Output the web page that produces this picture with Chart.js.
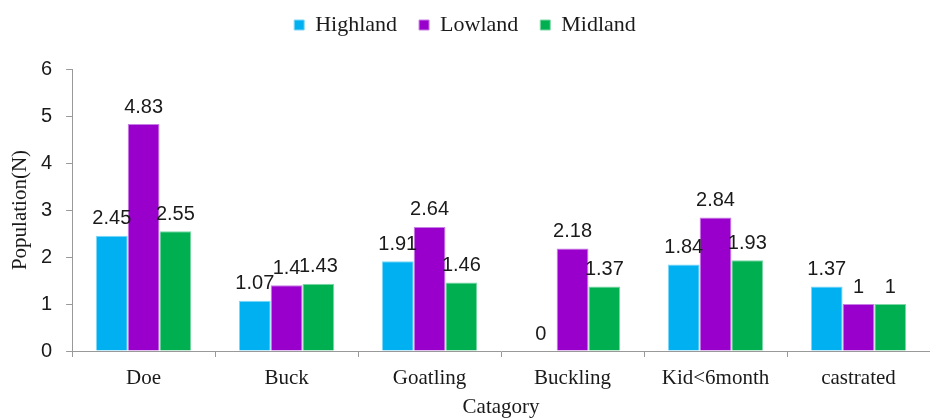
<!DOCTYPE html>
<html>
<head>
<meta charset="utf-8">
<script src="https://cdn.jsdelivr.net/npm/chart.js@4"></script>
<style>
  html, body { margin: 0; padding: 0; background: #fff; overflow: hidden; }
</style>
</head>
<body>
<canvas id="goatChart" width="930" height="420"></canvas>
<script>
const categories = ['Doe', 'Buck', 'Goatling', 'Buckling', 'Kid<6month', 'castrated'];
const highland = [2.45, 1.07, 1.91, 0, 1.84, 1.37];
const lowland = [4.83, 1.4, 2.64, 2.18, 2.84, 1];
const midland = [2.55, 1.43, 1.46, 1.37, 1.93, 1];
const yTicks = [0, 1, 2, 3, 4, 5, 6];

const serif = "'Liberation Serif', 'Times New Roman', serif";
const sans = "'Liberation Sans Narrow', 'Liberation Sans', sans-serif";

// draw value labels above each bar
const valueLabels = {
    id: 'valueLabels',
    afterDatasetsDraw(chart) {
        const ctx = chart.ctx;
        ctx.save();
        ctx.font = '20px ' + sans;
        ctx.fillStyle = '#1a1a1a';
        ctx.textAlign = 'center';
        ctx.textBaseline = 'bottom';
        chart.data.datasets.forEach((ds, i) => {
            chart.getDatasetMeta(i).data.forEach((bar, j) => {
                ctx.fillText(String(ds.data[j]), bar.x, bar.y - 7);
            });
        });
        ctx.restore();
    }
};

// more room between legend and plot
const legendGap = {
    id: 'legendGap',
    beforeInit(chart) {
        const fit = chart.legend.fit;
        chart.legend.fit = function () {
            fit.bind(chart.legend)();
            this.height += 23;
        };
    }
};

new Chart(document.getElementById('goatChart'), {
    type: 'bar',
    data: {
        labels: categories,
        datasets: [
            { label: 'Highland', data: highland, backgroundColor: '#00B0F0', borderColor: '#7fd7f7', borderWidth: 1 },
            { label: 'Lowland', data: lowland, backgroundColor: '#9900CC', borderColor: '#c77fe5', borderWidth: 1 },
            { label: 'Midland', data: midland, backgroundColor: '#00B050', borderColor: '#7fd7a7', borderWidth: 1 }
        ]
    },
    options: {
        responsive: false,
        animation: false,
        devicePixelRatio: 1,
        layout: { padding: { left: 0, right: 0, top: -8, bottom: 2 } },
        datasets: { bar: { categoryPercentage: 0.667, barPercentage: 1 } },
        plugins: {
            legend: {
                position: 'top',
                labels: {
                    font: { family: serif, size: 22 },
                    color: '#1a1a1a',
                    boxWidth: 10,
                    boxHeight: 10,
                    padding: 22
                }
            },
            tooltip: { enabled: false }
        },
        scales: {
            x: {
                grid: { display: true, drawOnChartArea: false, offset: true, color: '#999', tickLength: 6 },
                border: { color: '#999' },
                ticks: { font: { family: serif, size: 21, lineHeight: 1 }, color: '#1a1a1a', padding: 11, maxRotation: 0 },
                title: { display: true, text: 'Catagory', font: { family: serif, size: 21, lineHeight: 1 }, color: '#1a1a1a', padding: { top: -3, bottom: 0 } }
            },
            y: {
                min: 0,
                max: 6,
                afterBuildTicks(scale) { scale.ticks = yTicks.map(v => ({ value: v })); },
                grid: { display: true, drawOnChartArea: false, color: '#999', tickLength: 6 },
                border: { color: '#999' },
                ticks: { font: { family: sans, size: 20 }, color: '#1a1a1a', padding: 14 },
                title: { display: true, text: 'Population(N)', font: { family: serif, size: 21, lineHeight: 1 }, color: '#1a1a1a', padding: { top: 10, bottom: -4 } }
            }
        }
    },
    plugins: [valueLabels, legendGap]
});
</script>
</body>
</html>
